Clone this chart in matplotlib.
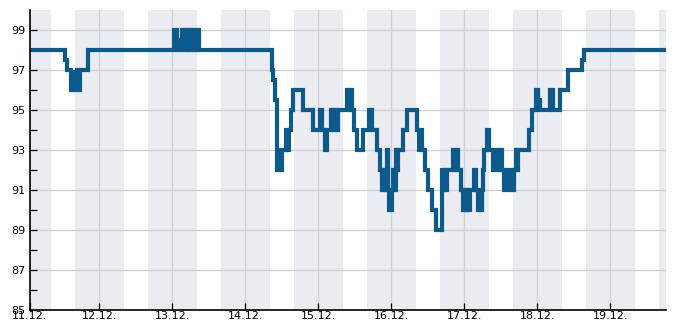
import matplotlib
matplotlib.use("Agg")
import matplotlib.pyplot as plt
import numpy as np

# hours since 11.12. 00:00 and the reading that starts at that hour (step data)
hours = [1.2, 12.72, 13.22, 14.6, 15.19, 15.45, 16.5, 16.83, 17.49, 20.38,
         48.56, 49.38, 49.71, 51.19, 52.01, 52.34, 52.83, 53.16, 53.82, 54.15,
         54.81, 55.13, 55.96, 56.29, 56.78,
         80.68, 81.2, 81.76, 82.26, 82.52, 83.08, 83.41, 84.17, 85.38, 85.88,
         86.2, 86.93, 87.78, 91.07, 94.16, 96.56, 97.12, 98.2, 98.76, 100.08,
         100.93, 101.49, 101.98, 102.48, 105.53, 106.1, 106.32, 106.98, 107.84, 108.82,
         110.8, 112.67, 113.56, 115.2, 116.29, 116.94, 117.6, 117.93, 118.42, 118.75,
         119.08, 120.07, 120.56, 120.89, 121.38, 121.71, 122.2, 123.85, 125.06, 128.35,
         129.1, 129.6, 130.19, 131.08, 132.17, 133.38, 134.53, 136.57, 137.0, 137.49,
         137.99, 138.31, 140.19, 140.94, 141.27, 142.03, 142.82, 143.41, 144.07, 144.39,
         144.89, 145.22, 145.87, 147.03, 147.68, 148.34, 149.66, 150.05, 150.48, 151.56,
         151.96, 153.27, 153.6, 154.26, 154.91, 155.57, 155.9, 156.29, 157.05, 157.71,
         158.2, 158.86, 159.19, 160.34, 160.99, 161.32, 161.75,
         165.37, 166.16, 167.47, 168.33, 168.89, 172.16, 173.27, 175.46, 178.0, 182.7,
         183.36, 210.3]
values = [98, 97.5, 97, 96, 97, 96, 97, 96, 97, 98,
          99, 98.5, 98, 99, 98, 99, 98, 99, 98, 99,
          98, 99, 98, 99, 98,
          97, 96.5, 95.5, 94, 92, 93, 92, 93, 94, 93,
          94, 95, 96, 95, 94, 95, 94, 93, 94, 95,
          94, 95, 94, 95, 96, 95, 96, 95, 94, 93,
          94, 95, 94, 93, 92, 91, 92, 91, 93, 91,
          90, 91, 92, 91, 93, 92, 93, 94, 95, 94,
          93, 94, 93, 92, 91, 90, 89, 92, 91, 92,
          91, 92, 93, 92, 93, 92, 91, 90, 91, 90,
          91, 90, 91, 92, 91, 90, 91, 92, 93, 94,
          93, 92, 93, 92, 93, 92, 93, 92, 91, 92,
          91, 92, 91, 92, 93, 92, 93,
          94, 95, 96, 95.5, 95, 96, 95, 96, 97, 97.5,
          98, 98]

day_labels = ["11.12.", "12.12.", "13.12.", "14.12.", "15.12.",
              "16.12.", "17.12.", "18.12.", "19.12."]
y_ticks = [85, 87, 89, 91, 93, 95, 97, 99]
night_start, night_end = 16, 8

x_min, x_max = hours[0], hours[-1]

fig = plt.figure(figsize=(6.85, 3.30), dpi=100)
ax = fig.add_axes([30 / 685, 20 / 330, 636 / 685, 300 / 330])

# night bands
for d in range(-1, 9):
    ax.axvspan(d * 24 + night_start, d * 24 + 24 + night_end,
               color="#ebecf2", lw=0, zorder=0)

ax.step(hours, values, where="post", color="#0b5a8b", lw=3.0,
        solid_joinstyle="miter", zorder=3)

ax.set_xlim(x_min, x_max)
ax.set_ylim(85, 100)

xt = [x_min] + [24 * k for k in range(1, 9)]
ax.set_xticks(xt)
ax.set_xticklabels(day_labels)
ax.set_yticks(y_ticks)
ax.set_yticks(range(86, 100, 2), minor=True)

for k in range(1, 9):
    ax.axvline(24 * k, color="#cfcfd4", lw=0.9, zorder=1)
for v in y_ticks[1:]:
    ax.axhline(v, color="#cfcfd4", lw=0.9, zorder=1)

ax.tick_params(axis="both", which="both", direction="in", labelsize=8,
               colors="black", width=0.9)
ax.tick_params(axis="y", which="major", length=5, pad=3)
ax.tick_params(axis="y", which="minor", length=5)
ax.tick_params(axis="x", length=5, pad=1)

for s in ["top", "right"]:
    ax.spines[s].set_visible(False)
for s in ["left", "bottom"]:
    ax.spines[s].set_linewidth(1.2)
    ax.spines[s].set_zorder(4)

fig.savefig("out.png", dpi=100)
